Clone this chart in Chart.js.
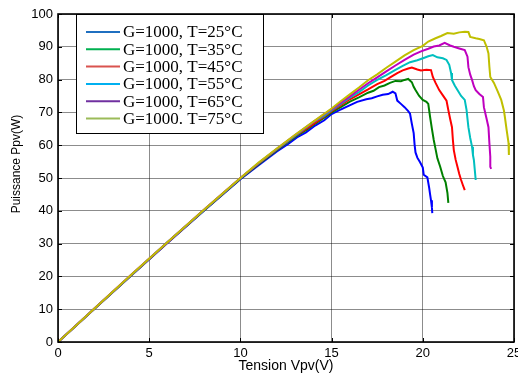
<!DOCTYPE html>
<html>
<head>
<meta charset="utf-8">
<script src="https://cdn.jsdelivr.net/npm/chart.js@4"></script>
<style>
  body { margin: 0; background: #fff; }
</style>
</head>
<body>
<canvas id="graficoPV" width="518" height="379"></canvas>
<script>
// Courbes P(V) d'un panneau PV, G = 1000 W/m², pour six températures
const etiquettes = ['G=1000, T=25°C', 'G=1000, T=35°C', 'G=1000, T=45°C',
                    'G=1000, T=55°C', 'G=1000, T=65°C', 'G=1000. T=75°C'];

// couleurs des tracés
const couleursCourbes = ['#0000ff', '#008000', '#ff0000', '#00bfbf', '#bf00bf', '#bfbf00'];
// couleurs des traits de la légende
const couleursLegende = ['#1f6fc0', '#00b050', '#d9534f', '#00b0f0', '#7030a0', '#9bbb59'];

const xTicks = [0, 5, 10, 15, 20, 25];
const yTicks = [0, 10, 20, 30, 40, 50, 60, 70, 80, 90, 100];

// [V, P]
const pT25 = [[0,0],[2,10.1],[4,20.2],[6,30.2],[8,40.0],[10,49.6],[11,53.9],[12,58.1],[12.6,60.3],[13.1,62.4],
  [13.6,63.9],[14.1,66.0],[14.6,67.6],[15.0,69.5],[15.4,70.6],[15.9,71.9],[16.4,73.2],[16.9,74.0],[17.2,74.3],
  [17.5,74.9],[17.8,75.4],[18.1,75.6],[18.35,76.3],[18.5,75.8],[18.6,73.6],[18.8,72.6],[19.0,71.6],[19.2,70.4],
  [19.3,69.6],[19.4,66.5],[19.5,63.7],[19.55,60.2],[19.6,57.8],[19.7,56.2],[19.85,54.8],[20.0,53.2],[20.05,51.0],
  [20.25,50.2],[20.35,47.0],[20.4,45.0],[20.45,43.2],[20.5,41.0],[20.52,39.3]];

const pT35 = [[0,0],[2,10.1],[4,20.3],[6,30.3],[8,40.1],[10,49.8],[11,54.2],[12,58.5],[12.6,60.9],[13.1,62.9],
  [13.6,64.6],[14.1,66.6],[14.6,68.4],[15.0,70.0],[15.5,71.6],[16.0,73.3],[16.5,74.6],[17.0,76.0],[17.3,76.6],
  [17.6,77.7],[17.9,78.2],[18.2,79.0],[18.5,79.6],[18.8,79.5],[19.0,79.9],[19.2,80.2],[19.4,79.2],[19.5,77.8],
  [19.6,76.8],[19.8,75.0],[20.0,73.8],[20.2,73.2],[20.3,72.6],[20.4,68.6],[20.5,65.0],[20.6,61.6],[20.7,58.8],
  [20.8,56.0],[20.95,53.5],[21.1,50.6],[21.25,48.7],[21.35,45.5],[21.4,42.4]];

const pT45 = [[0,0],[2,10.2],[4,20.3],[6,30.3],[8,40.2],[10,49.9],[11,54.4],[12,58.7],[13,62.8],[13.6,65.0],
  [14.1,66.9],[14.6,68.8],[15.0,70.4],[15.5,72.2],[16.0,74.0],[16.5,75.5],[17.0,77.0],[17.5,78.6],[17.9,79.6],
  [18.3,81.0],[18.6,82.0],[18.9,82.8],[19.2,83.4],[19.4,83.7],[19.7,83.1],[19.9,82.8],[20.2,83.0],[20.45,82.9],
  [20.55,80.8],[20.7,79.0],[20.9,76.8],[21.1,75.2],[21.3,73.6],[21.4,70.7],[21.5,68.0],[21.6,65.5],[21.65,61.6],
  [21.7,58.5],[21.8,55.6],[21.9,53.4],[22.0,51.2],[22.1,49.4],[22.2,47.8],[22.3,46.3]];

const pT55 = [[0,0],[2,10.2],[4,20.3],[6,30.4],[8,40.2],[10,49.9],[11,54.5],[12,58.8],[13,62.9],[14,67.0],
  [14.6,69.0],[15.0,70.7],[15.5,72.6],[16.0,74.5],[16.5,76.2],[17.0,78.2],[17.5,79.9],[18.0,81.4],[18.5,83.0],
  [18.9,84.2],[19.3,85.3],[19.7,85.9],[20.05,86.6],[20.3,87.1],[20.55,87.5],[20.8,86.8],[21.1,86.5],[21.3,86.0],
  [21.45,84.5],[21.55,82.0],[21.6,79.9],[21.75,78.2],[21.9,76.8],[22.1,75.0],[22.3,73.8],[22.4,70.7],[22.45,68.0],
  [22.5,65.5],[22.6,62.2],[22.7,59.5],[22.75,57.0],[22.8,55.5],[22.85,52.5],[22.9,49.4]];

const pT65 = [[0,0],[2,10.2],[4,20.4],[6,30.4],[8,40.3],[10,50.0],[11,54.6],[12,58.9],[13,63.1],[14,67.1],
  [15,71.0],[15.5,72.9],[16.0,74.9],[16.5,76.9],[17.0,78.9],[17.5,80.7],[18.0,82.5],[18.5,84.3],[19.0,86.0],
  [19.5,87.6],[19.9,88.6],[20.3,89.4],[20.6,90.1],[20.9,90.4],[21.2,91.2],[21.5,90.4],[21.7,90.0],[22.0,89.5],
  [22.3,89.0],[22.45,87.0],[22.5,83.8],[22.6,81.5],[22.7,79.9],[22.8,78.0],[22.9,76.8],[23.1,75.6],[23.3,74.7],
  [23.35,71.6],[23.5,68.0],[23.6,65.5],[23.65,60.7],[23.7,56.5],[23.7,53.4],[23.75,52.8]];

const pT75 = [[0,0],[2,10.2],[4,20.4],[6,30.4],[8,40.3],[10,50.0],[11,54.7],[12,59.0],[13,63.2],[14,67.2],
  [15,71.2],[15.5,73.4],[16.0,75.5],[16.5,77.6],[17.0,79.8],[17.5,81.6],[18.0,83.6],[18.5,85.5],[19.0,87.4],
  [19.5,89.0],[20.0,90.3],[20.3,91.6],[20.7,92.6],[21.0,93.3],[21.35,94.2],[21.7,94.0],[22.0,94.4],[22.3,94.6],
  [22.5,94.5],[22.6,93.0],[22.9,92.6],[23.1,92.4],[23.35,92.0],[23.5,90.0],[23.6,88.0],[23.65,84.0],[23.7,80.8],
  [23.9,79.0],[24.1,76.5],[24.3,73.8],[24.45,70.5],[24.5,68.6],[24.6,64.5],[24.7,60.7],[24.72,57.0]];

const series = [pT25, pT35, pT45, pT55, pT65, pT75];

// cadre noir, petites graduations intérieures, titre vertical et légende
const cadre = {
  id: 'cadre',
  afterDraw(chart) {
    const ctx = chart.ctx;
    const { left, right, top, bottom } = chart.chartArea;
    const sx = chart.scales.x, sy = chart.scales.y;
    ctx.save();
    ctx.strokeStyle = '#000';
    ctx.lineWidth = 1;
    xTicks.forEach(v => {
      const px = Math.round(sx.getPixelForValue(v)) + 0.5;
      ctx.beginPath();
      ctx.moveTo(px, bottom); ctx.lineTo(px, bottom - 4);
      ctx.moveTo(px, top); ctx.lineTo(px, top + 4);
      ctx.stroke();
    });
    yTicks.forEach(v => {
      const py = Math.round(sy.getPixelForValue(v)) + 0.5;
      ctx.beginPath();
      ctx.moveTo(left, py); ctx.lineTo(left + 4, py);
      ctx.moveTo(right, py); ctx.lineTo(right - 4, py);
      ctx.stroke();
    });
    ctx.lineWidth = 1.6;
    ctx.strokeRect(left, top, right - left, bottom - top);

    // titre de l'axe des ordonnées
    ctx.translate(17, 164);
    ctx.rotate(-Math.PI / 2);
    ctx.font = '12px "Liberation Sans", Arial, sans-serif';
    ctx.fillStyle = '#000';
    ctx.textAlign = 'center';
    ctx.textBaseline = 'middle';
    ctx.fillText('Puissance Ppv(W)', 0, 0);
    ctx.restore();

    // légende
    ctx.save();
    const bx = 76, by = top, bw = 187, bh = 119;
    ctx.fillStyle = '#fff';
    ctx.fillRect(bx, by, bw, bh);
    ctx.strokeStyle = '#000';
    ctx.lineWidth = 1;
    ctx.strokeRect(bx + 0.5, by + 0.5, bw, bh);
    ctx.font = '17px "Liberation Serif", "Times New Roman", serif';
    ctx.textBaseline = 'middle';
    etiquettes.forEach((txt, i) => {
      const y = by + 18 + i * 17.3;
      ctx.strokeStyle = couleursLegende[i];
      ctx.lineWidth = 2;
      ctx.beginPath();
      ctx.moveTo(86, y); ctx.lineTo(120, y);
      ctx.stroke();
      ctx.fillStyle = '#000';
      ctx.fillText(txt, 123, y + 1);
    });
    ctx.restore();
  }
};

const ctx = document.getElementById('graficoPV').getContext('2d');
const grafico = new Chart(ctx, {
  type: 'line',
  data: {
    datasets: series.map((pts, i) => ({
      label: etiquettes[i],
      data: pts.map(p => ({ x: p[0], y: p[1] })),
      borderColor: couleursCourbes[i],
      borderWidth: 2,
      pointRadius: 0,
      tension: 0,
      fill: false,
      order: series.length - i
    }))
  },
  options: {
    responsive: false,
    animation: false,
    layout: { padding: { top: 14, right: 4, left: 0, bottom: 0 } },
    plugins: {
      legend: { display: false },
      tooltip: { enabled: false }
    },
    scales: {
      x: {
        type: 'linear',
        min: 0,
        max: 25,
        afterBuildTicks: s => { s.ticks = xTicks.map(v => ({ value: v })); },
        afterFit: s => { s.height = 37; s.paddingLeft = 0; s.paddingRight = 0; },
        grid: { color: 'rgba(0,0,0,0.45)', lineWidth: 1, drawTicks: false },
        border: { display: false },
        ticks: { color: '#000', padding: 4, maxRotation: 0, font: { family: '"Liberation Sans", Arial, sans-serif', size: 13 } },
        title: {
          display: true,
          text: 'Tension Vpv(V)',
          color: '#000',
          padding: { top: 0, bottom: 4 },
          font: { family: '"Liberation Sans", Arial, sans-serif', size: 14 }
        }
      },
      y: {
        min: 0,
        max: 100,
        afterBuildTicks: s => { s.ticks = yTicks.map(v => ({ value: v })); },
        afterFit: s => { s.width = 58; s.paddingTop = 0; s.paddingBottom = 0; },
        grid: { color: 'rgba(0,0,0,0.45)', lineWidth: 1, drawTicks: false },
        border: { display: false },
        ticks: { color: '#000', padding: 5, font: { family: '"Liberation Sans", Arial, sans-serif', size: 13 } }
      }
    }
  },
  plugins: [cadre]
});
</script>
</body>
</html>
